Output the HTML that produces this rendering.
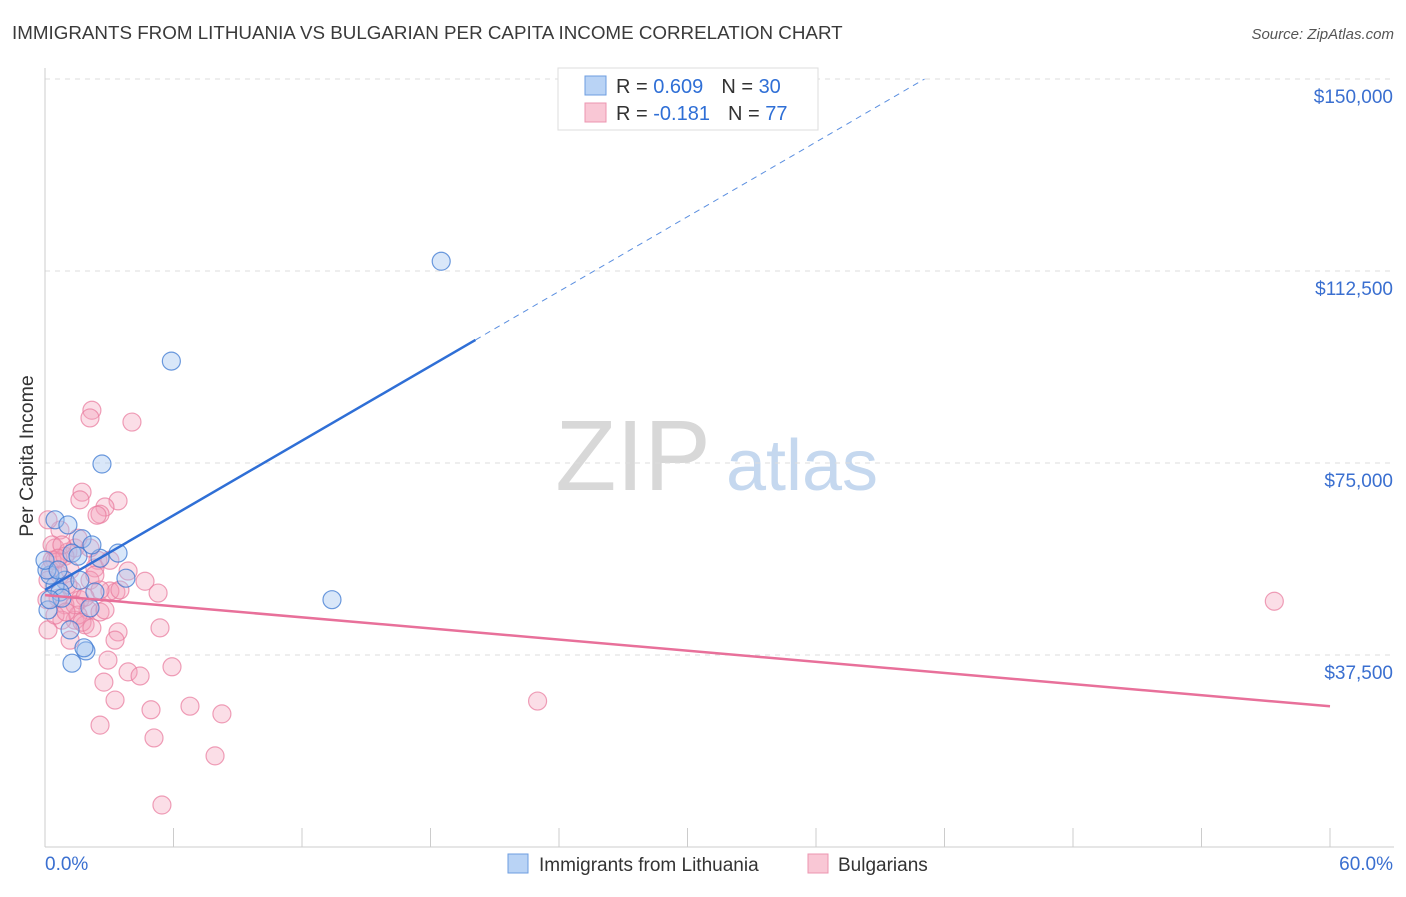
<!DOCTYPE html>
<html><head><meta charset="utf-8"><style>
body{margin:0;background:#fff;font-family:"Liberation Sans",sans-serif;}
svg text{font-family:"Liberation Sans",sans-serif;}
</style></head><body>
<svg id="chart" width="1406" height="892" xmlns="http://www.w3.org/2000/svg">
<text x="12" y="39" font-size="18.8" fill="#3a3a3a">IMMIGRANTS FROM LITHUANIA VS BULGARIAN PER CAPITA INCOME CORRELATION CHART</text>
<text x="1394" y="39" font-size="15" fill="#555" text-anchor="end" font-style="italic">Source: ZipAtlas.com</text>
<text transform="translate(33,456) rotate(-90)" font-size="19.5" fill="#333" text-anchor="middle">Per Capita Income</text>
<g>
<text x="633" y="490" font-size="100" fill="#d8d8d8" font-family="Liberation Serif" text-anchor="middle">ZIP</text>
<text x="802" y="490" font-size="72" fill="#c5d8ef" text-anchor="middle">atlas</text>
</g>
<g id="grid"></g><g id="axes"></g><g id="pts"></g><g id="lines"></g>
<g>
<rect x="558" y="68" width="260" height="62" fill="#fff" stroke="#ddd"/>
<rect x="585" y="76" width="21" height="19" fill="#b9d3f5" stroke="#6d9ee0"/>
<rect x="585" y="103" width="21" height="19" fill="#f9c7d5" stroke="#ec95b0"/>
<text x="616" y="93" font-size="20" fill="#333">R = <tspan fill="#2f6fd6">0.609</tspan><tspan dx="18">N = </tspan><tspan fill="#2f6fd6">30</tspan></text>
<text x="616" y="120" font-size="20" fill="#333">R = <tspan fill="#2f6fd6">-0.181</tspan><tspan dx="18">N = </tspan><tspan fill="#2f6fd6"> 77</tspan></text>
</g>
<g>
<rect x="508" y="854" width="20" height="19" fill="#b9d3f5" stroke="#6d9ee0"/>
<text x="539" y="871" font-size="19" fill="#333">Immigrants from Lithuania</text>
<rect x="808" y="854" width="20" height="19" fill="#f9c7d5" stroke="#ec95b0"/>
<text x="838" y="871" font-size="19" fill="#333">Bulgarians</text>
</g>
</svg>
<script>
const yTicks=[37500,75000,112500,150000];
const yTickLabels=["$37,500","$75,000","$112,500","$150,000"];
const xTickLabels=["0.0%","60.0%"];
const blueX=[18.5,5.9,2.66,0.47,1.07,1.73,3.41,2.57,1.26,3.78,0.93,0.47,0.70,2.33,13.4,0.23,0.09,1.17,1.26,1.91,1.82,0.14,1.54,0.79,2.1,0,0.23,1.63,0.61,2.19];
const blueY=[114400,94900,74800,63900,62900,60200,57400,56400,57400,52500,52100,51000,49800,49800,48300,53100,54100,42400,35900,38300,38900,46300,56800,48600,46700,56000,48300,52100,54100,59000];
const pinkX=[57.4,23.0,4.06,2.19,2.10,1.73,1.63,3.41,2.80,2.57,2.43,0.70,0.47,1.07,1.40,2.47,2.33,3.88,4.67,5.28,3.31,3.03,0.47,0.23,0.70,1.26,1.63,0.93,2.01,2.57,1.40,1.87,0.79,3.41,5.37,3.27,0.14,2.94,5.93,2.75,3.88,4.44,3.27,6.77,4.95,8.26,2.57,5.09,7.94,5.46,0.14,0.33,1.17,0.93,2.10,2.57,1.54,2.33,1.87,0.33,0.61,1.40,1.07,3.03,3.50,0.14,0.47,2.10,0.79,1.73,1.17,2.80,0.61,2.19,0.98,1.54,0.09];
const pinkY=[48000,28500,83000,85300,83800,69300,67800,67600,66400,65000,64800,61900,58400,57600,58400,56000,54500,53900,51900,49600,49800,50000,56000,54100,53100,50200,48300,47300,46300,45900,44300,43400,44300,42000,42800,40400,42400,36500,35200,32200,34200,33400,28700,27500,26800,26000,23800,21300,17800,8200,52100,56000,40400,56800,52100,50200,45300,53100,48800,59000,48600,47300,51200,56000,50200,63900,45300,58400,59000,43900,54100,46300,56400,42800,45900,60300,48300];
const blueLine=[50200,2430];
const pinkLine=[49200,-362];
const X0=45,X1=1330,Y0=847,PXPER=192/37500;
const sx=v=>X0+(v/60)*(X1-X0);
const sy=v=>Y0-v*PXPER;
const NS="http://www.w3.org/2000/svg";
function mk(p,t,a){const e=document.createElementNS(NS,t);for(const k in a)e.setAttribute(k,a[k]);p.appendChild(e);return e;}
const grid=document.getElementById('grid'),axes=document.getElementById('axes');
yTicks.forEach((t,i)=>{
 const l=mk(grid,'line',{x1:X0,x2:1394,y1:sy(t),y2:sy(t),stroke:'#ddd','stroke-dasharray':'5,5'});
 
 
 const tx=mk(axes,'text',{x:1393,y:sy(t)+24,'font-size':19,fill:'#3a6fd0','text-anchor':'end'});
 tx.textContent=yTickLabels[i];
 
 
});
const ax=mk(axes,'line',{x1:X0,x2:1394,y1:Y0,y2:Y0,stroke:'#ccc'});


const ay=mk(axes,'line',{x1:X0,x2:X0,y1:68,y2:Y0,stroke:'#ccc'});


for(let i=0;i<=10;i++){const t=mk(axes,'line',{x1:sx(i*6),x2:sx(i*6),y1:828,y2:Y0,stroke:'#ccc'});
 
 }
[[0,'start',45],[1,'end',1393]].forEach(([i,a,x])=>{const t=mk(axes,'text',{x:x,y:870,'font-size':19,fill:'#3a6fd0','text-anchor':a});t.textContent=xTickLabels[i];
 
 });
const pts=document.getElementById('pts');
pinkX.forEach((x,i)=>{const c=mk(pts,'circle',{cx:sx(x),cy:sy(pinkY[i]),r:9,fill:'rgba(244,160,185,0.35)',stroke:'rgba(232,120,155,0.7)','stroke-width':1.2});
 
 });
blueX.forEach((x,i)=>{const c=mk(pts,'circle',{cx:sx(x),cy:sy(blueY[i]),r:9,fill:'rgba(160,195,240,0.4)',stroke:'rgba(60,120,210,0.75)','stroke-width':1.2});
 
 });
const lines=document.getElementById('lines');
const bEnd=20.1,bDash=(150000-blueLine[0])/blueLine[1];
const b1=mk(lines,'line',{x1:sx(0),y1:sy(blueLine[0]),x2:sx(bEnd),y2:sy(blueLine[0]+blueLine[1]*bEnd),stroke:'#2f6fd6','stroke-width':2.5});


const b2=mk(lines,'line',{x1:sx(bEnd),y1:sy(blueLine[0]+blueLine[1]*bEnd),x2:sx(bDash),y2:sy(150000),stroke:'#5b8fe0','stroke-width':1,'stroke-dasharray':'6,5'});


const p1=mk(lines,'line',{x1:sx(0),y1:sy(pinkLine[0]),x2:sx(60),y2:sy(pinkLine[0]+pinkLine[1]*60),stroke:'#e8709a','stroke-width':2.5});


</script>
</body></html>
